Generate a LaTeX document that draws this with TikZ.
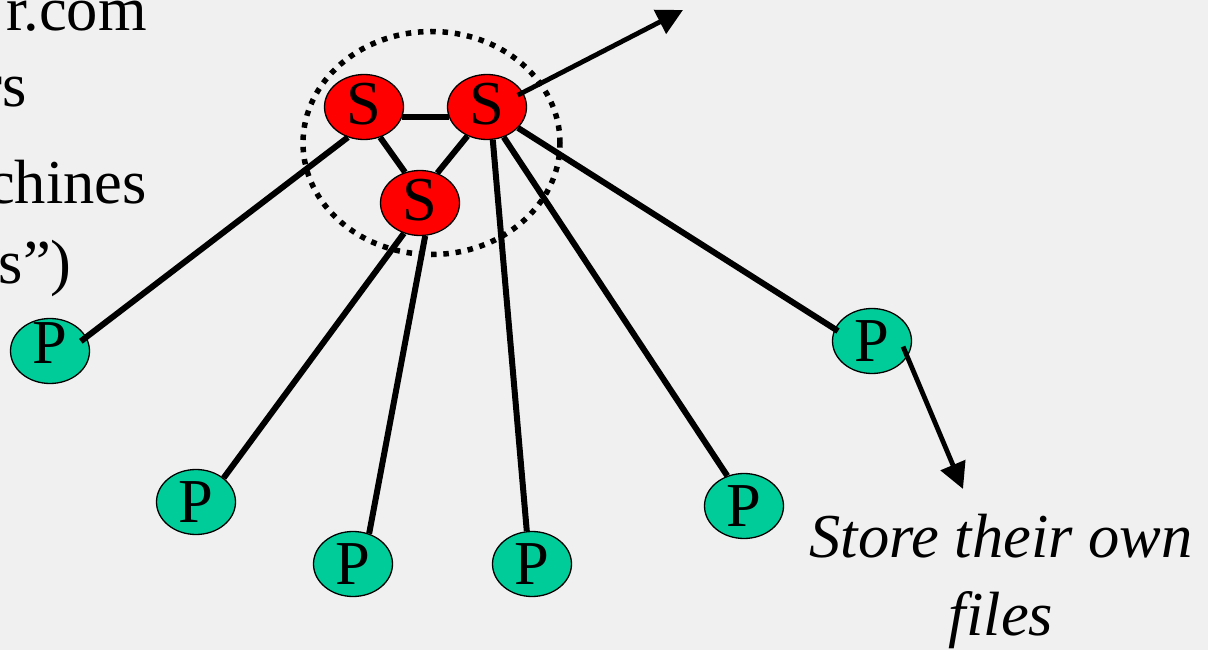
\documentclass[tikz,border=0pt]{standalone}
\usepackage{fontspec}
\setmainfont{Liberation Serif}
\usetikzlibrary{shapes.geometric,arrows.meta}
\definecolor{bg}{HTML}{F0F0F0}
\definecolor{peerfill}{HTML}{00CC99}
\begin{document}
\begin{tikzpicture}[x=1pt,y=-1pt,
  every node/.style={font=\fontsize{62.5}{78}\selectfont, inner sep=0pt},
  snode/.style={ellipse, draw=black, line width=1.3pt, fill=red,
    minimum width=79pt, minimum height=65pt, inner sep=0pt,
    text height=39pt, text depth=4.6pt},
  pnode/.style={ellipse, draw=black, line width=1.3pt, fill=peerfill,
    minimum width=79pt, minimum height=65pt, inner sep=0pt},
  link/.style={line width=6pt},
  pointer/.style={line width=4.8pt, -{Triangle[length=26pt,width=26pt]}},
  group/.style={ellipse, draw=black, line width=5.5pt,
    dash pattern=on 5.5pt off 6.8pt, minimum width=257pt, minimum height=223pt}
]
\useasboundingbox[fill=bg] (0,0) rectangle (1208,650);

% left text fragments
\node[anchor=base east] (t1) at (147,31) {r.com};
\node[anchor=base east] (t2) at (27,107) {rs};
\node[anchor=base east] (t3) at (147,204) {chines};
\node[anchor=base east] (t4) at (72,283) {s”)};

% super-peer group
\node[group] (grp) at (431.5,143) {};

% super peers
\node[snode] (S1) at (364,107) {S};
\node[snode] (S2) at (487,107) {S};
\node[snode] (S3) at (420,203) {S};

% peers
\node[pnode, text height=34pt, text depth=9.6pt] (P1) at (50,351) {P};
\node[pnode] (P2) at (196,502) {P};
\node[pnode] (P3) at (353,564) {P};
\node[pnode] (P4) at (532,564) {P};
\node[pnode] (P5) at (744,506) {P};
\node[pnode] (P6) at (872,341) {P};

% connectors
\draw[link, shorten >=-7pt] (S1.242) -- (P1.21);
\draw[link] (S1.-14) -- (S2.194);
\draw[link] (S1.-62) -- (S3.116);
\draw[link] (S2.236) -- (S3.60);
\draw[link] (S3.242) -- (P2.41);
\draw[link] (S3.-81) -- (P3.62);
\draw[link] (S2.-80) -- (P4.99);
\draw[link] (S2.-61) -- (P5.119);
\draw[link, shorten >=-4pt] (S2.-34) -- (P6.162);

% arrows
\coordinate (tipA) at (683,10);
\coordinate (tipB) at (963,489);
\draw[pointer, shorten <=-6pt] (S2.22) -- (tipA);
\draw[pointer, shorten <=-11pt] (P6.-24) -- (tipB);

% note (base anchor = baseline of the last line)
\node[align=center, anchor=base, font=\fontsize{62.5}{78}\selectfont\itshape] (note) at (1001,635) {Store their own\\files};
\end{tikzpicture}
\end{document}
